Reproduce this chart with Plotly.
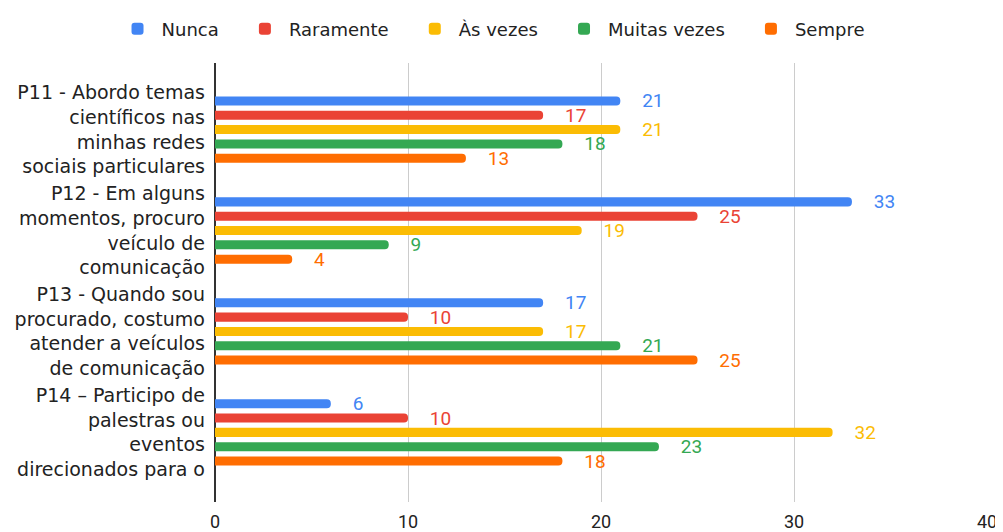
import plotly.graph_objects as go

# ── Data ────────────────────────────────────────────────────────────────────────
questions = [
    "P11 - Abordo temas<br>científicos nas<br>minhas redes<br>sociais particulares",
    "P12 - Em alguns<br>momentos, procuro<br>veículo de<br>comunicação",
    "P13 - Quando sou<br>procurado, costumo<br>atender a veículos<br>de comunicação",
    "P14 – Participo de<br>palestras ou<br>eventos<br>direcionados para o",
]
series_names = ["Nunca", "Raramente", "Às vezes", "Muitas vezes", "Sempre"]
nunca = [21, 33, 17, 6]
raramente = [17, 25, 10, 10]
as_vezes = [21, 19, 17, 32]
muitas_vezes = [18, 9, 21, 23]
sempre = [13, 4, 25, 18]
x_ticks = [0, 10, 20, 30, 40]

series_values = [nunca, raramente, as_vezes, muitas_vezes, sempre]
colors = ["#4285F4", "#EA4335", "#FBBC04", "#34A853", "#FF6D01"]

fig = go.Figure()
for name, vals, col in zip(series_names, series_values, colors):
    fig.add_trace(
        go.Bar(
            x=vals,
            y=questions,
            orientation="h",
            name=name + "\u00a0\u00a0\u00a0",  # a little extra room between legend items
            marker=dict(color=col, cornerradius=4, line=dict(width=0)),
            text=vals,
            texttemplate="    %{text}",
            textposition="outside",
            constraintext="none",
            textfont=dict(family="Roboto, sans-serif", size=19, color=col),
            cliponaxis=False,
        )
    )

# page body adds an 8px offset, so the figure is 8px smaller than the window
fig.update_layout(
    width=995,
    height=524,
    paper_bgcolor="white",
    plot_bgcolor="white",
    margin=dict(l=207, r=16, t=55, b=30, autoexpand=False),
    barmode="group",
    bargap=0.29,
    bargroupgap=0.37,
    font=dict(family="DejaVu Sans, sans-serif", color="#222222"),
    showlegend=True,
    legend=dict(
        orientation="h",
        x=0.495,
        xref="container",
        xanchor="center",
        y=0.995,
        yref="container",
        yanchor="top",
        font=dict(family="DejaVu Sans, sans-serif", size=18, color="#222222"),
        itemwidth=38,
        tracegroupgap=0,
    ),
    xaxis=dict(
        range=[0, 40],
        tickvals=x_ticks,
        showgrid=True,
        gridcolor="#cccccc",
        gridwidth=1,
        zeroline=True,
        zerolinecolor="#333333",
        zerolinewidth=2,
        tickfont=dict(family="Roboto, sans-serif", size=18, color="#222222"),
        ticks="",
        ticklabelstandoff=7,
        showline=False,
    ),
    yaxis=dict(
        categoryorder="array",
        categoryarray=questions,
        range=[3.69, -0.66],
        tickfont=dict(family="DejaVu Sans, sans-serif", size=19, color="#222222"),
        ticks="",
        showgrid=False,
        ticklabelstandoff=9,
    ),
)

fig.write_html("out.html")
